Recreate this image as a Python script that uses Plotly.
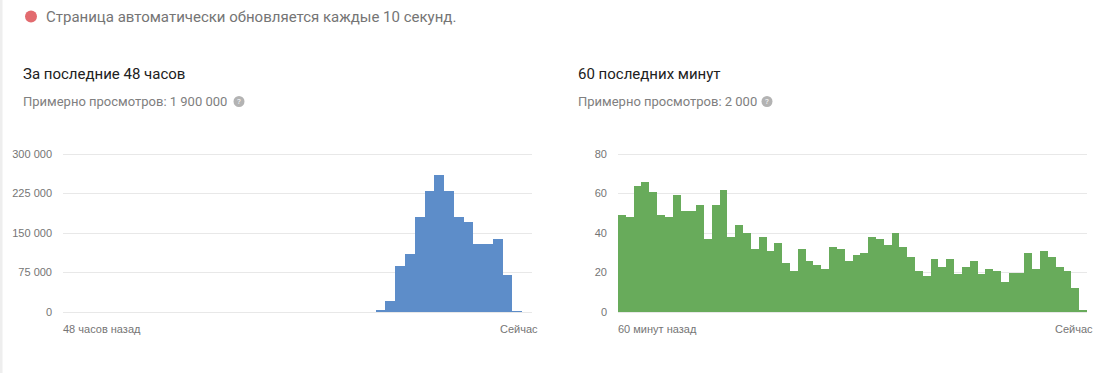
import plotly.graph_objects as go

W, H = 1108, 373

hours_x = list(range(48))
hours_views = [0] * 32 + [2000, 20000, 88000, 110000, 181000, 230000, 260000, 230000,
                          181000, 170000, 130000, 130000, 139000, 71000, 1500, 0]
minutes_x = list(range(60))
minutes_views = [49, 48, 64, 66, 61, 49, 48, 59, 51, 51,
                 54, 37, 54, 62, 38, 44, 40, 32, 38, 31,
                 35, 25, 21, 32, 26, 24, 22, 33, 32, 26,
                 29, 30, 38, 37, 34, 40, 33, 28, 21, 18,
                 27, 23, 27, 19, 23, 26, 19, 22, 21, 15,
                 20, 20, 30, 22, 31, 28, 23, 21, 12, 1]
hours_ticks = [0, 75000, 150000, 225000, 300000]
hours_ticktext = ["0", "75 000", "150 000", "225 000", "300 000"]
minutes_ticks = [0, 20, 40, 60, 80]
minutes_ticktext = ["0", "20", "40", "60", "80"]

BLUE = "#5d8dc9"
GREEN = "#68ab5b"
GRID = "#e8e8e8"
TICK = "#757575"
GREY = "#808080"
SANS = "Roboto"
CHART = "Liberation Sans"


def px(x):
    return x / W


def py(y):
    return 1 - y / H


fig = go.Figure()
fig.add_bar(x=hours_x, y=hours_views, marker=dict(color=BLUE, line_width=0),
            xaxis="x", yaxis="y", showlegend=False)
fig.add_bar(x=minutes_x, y=minutes_views, marker=dict(color=GREEN, line_width=0),
            xaxis="x2", yaxis="y2", showlegend=False)

top, bottom = 154, 312
PAD = 2  # pixels of slack so the gridlines at both range ends are still drawn


def yaxis(vals, text, anchor):
    span = vals[-1] - vals[0]
    slack = span * PAD / (bottom - top)
    return dict(range=[vals[0] - slack, vals[-1] + slack], tickvals=vals, ticktext=text,
                domain=[py(bottom + PAD), py(top - PAD)],
                anchor=anchor, showgrid=True, gridcolor=GRID, gridwidth=1, zeroline=False,
                showline=False, ticks="", ticklabelstandoff=10,
                tickfont=dict(family=CHART, size=11, color=TICK), fixedrange=True)


def xaxis(x0, x1, n, anchor):
    return dict(range=[-0.5, n - 0.5], domain=[px(x0), px(x1)], anchor=anchor,
                showticklabels=False, showgrid=False, zeroline=False, showline=False,
                ticks="", fixedrange=True)


def note(x, y, text, size, color, family=SANS, anchor="left"):
    return dict(xref="paper", yref="paper", x=px(x), y=py(y), text=text, showarrow=False,
                xanchor=anchor, yanchor="middle", xshift=0, borderpad=0, borderwidth=0,
                font=dict(family=family, size=size, color=color))


def dot(cx, cy, r, color):
    return dict(type="circle", xref="paper", yref="paper", x0=px(cx - r), x1=px(cx + r),
                y0=py(cy + r), y1=py(cy - r), fillcolor=color, line_width=0, layer="below")


annotations = [
    note(46, 17, "Страница автоматически обновляется каждые 10 секунд.", 15, "#757575"),
    note(23, 74, "За последние 48 часов", 15, "#212121"),
    note(578, 74, "60 последних минут", 15, "#212121"),
    note(23, 101.5, "Примерно просмотров: 1 900 000", 13, GREY),
    note(578, 101.5, "Примерно просмотров: 2 000", 13, GREY),
    note(239, 101.5, "?", 8, "#ffffff", anchor="center"),
    note(767, 101.5, "?", 8, "#ffffff", anchor="center"),
    note(63, 329, "48 часов назад", 11, TICK, CHART),
    note(537.5, 329, "Сейчас", 11, TICK, CHART, "right"),
    note(618, 329, "60 минут назад", 11, TICK, CHART),
    note(1092.5, 329, "Сейчас", 11, TICK, CHART, "right"),
]

shapes = [
    dict(type="rect", xref="paper", yref="paper", x0=0, x1=px(2.5), y0=0, y1=1,
         fillcolor="#eeeeee", line_width=0, layer="below"),
    dot(31, 16.5, 6, "#e26b6f"),
    dot(239, 101.5, 5.5, "#b3b3b3"),
    dot(767, 101.5, 5.5, "#b3b3b3"),
]

fig.update_layout(
    width=W, height=H, autosize=False,
    margin=dict(l=0, r=0, t=0, b=0, pad=0, autoexpand=False),
    paper_bgcolor="#ffffff", plot_bgcolor="#ffffff",
    bargap=0, showlegend=False, hovermode=False,
    xaxis=xaxis(63, 532, 48, "y"),
    yaxis=yaxis(hours_ticks, hours_ticktext, "x"),
    xaxis2=xaxis(618, 1087, 60, "y2"),
    yaxis2=yaxis(minutes_ticks, minutes_ticktext, "x2"),
    annotations=annotations, shapes=shapes,
)

fig.write_html("out.html", config={"displayModeBar": False},
               post_script="document.body.style.margin='0';document.documentElement.style.overflow='hidden';")
